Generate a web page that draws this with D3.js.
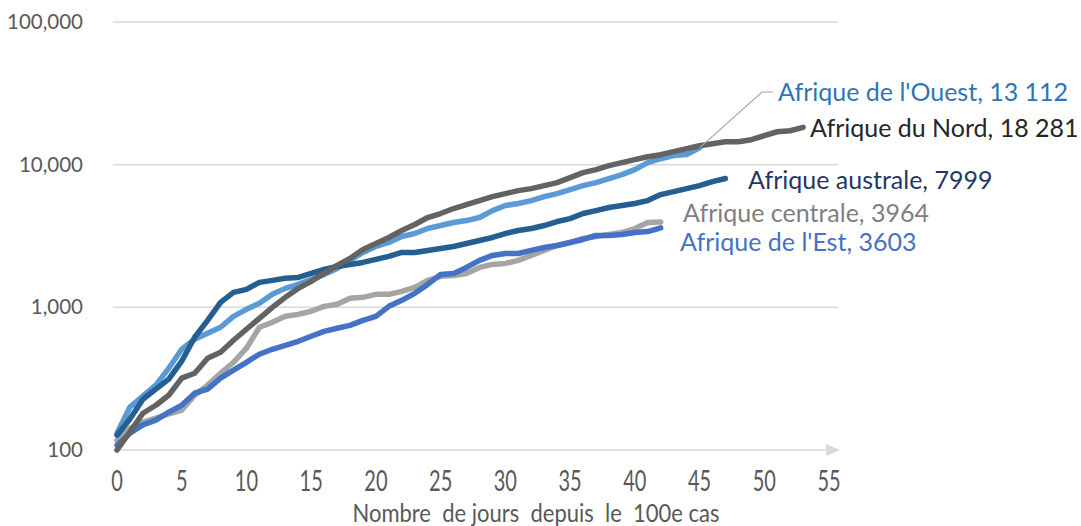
<!DOCTYPE html>
<html>
<head>
<meta charset="utf-8">
<script src="https://cdn.jsdelivr.net/npm/d3@7"></script>
<style>
  html, body { margin: 0; padding: 0; background: #ffffff; }
  svg text { font-family: Lato, "Open Sans", sans-serif; }
</style>
</head>
<body>
<div id="chart"></div>
<script>
////////////////////////////////////////////////////////////////////////////////////////////////////////////
//
// Data (cumulative cases, one value per day since the 100th case)
//
var nord = [100, 134, 181, 206, 242, 319, 345, 440, 485, 588, 702, 838, 1000, 1175, 1358, 1520, 1729, 1966,
  2201, 2545, 2803, 3088, 3455, 3805, 4260, 4545, 4925, 5250, 5600, 5975, 6270, 6580, 6793, 7130, 7480, 8109,
  8791, 9228, 9840, 10330, 10840, 11370, 11750, 12330, 12940, 13580, 14020, 14480, 14480, 14960, 15960, 17010,
  17290, 18281];
var ouest = [131, 200, 239, 285, 374, 508, 597, 658, 725, 865, 968, 1067, 1233, 1358, 1448, 1570, 1701, 1874,
  2132, 2424, 2671, 2849, 3139, 3290, 3568, 3745, 3930, 4057, 4260, 4767, 5170, 5340, 5600, 5975, 6270, 6685,
  7130, 7480, 7980, 8511, 9228, 10330, 11010, 11590, 11770, 13112];
var australe = [127, 165, 227, 267, 314, 419, 617, 811, 1084, 1273, 1336, 1496, 1545, 1600, 1621, 1729, 1844,
  1935, 1999, 2064, 2167, 2274, 2424, 2424, 2505, 2585, 2671, 2803, 2942, 3088, 3290, 3455, 3568, 3745, 3993,
  4190, 4545, 4767, 5005, 5170, 5340, 5600, 6170, 6474, 6793, 7130, 7606, 7999];
var centrale = [117, 142, 157, 167, 179, 190, 242, 285, 345, 412, 517, 725, 785, 865, 893, 938, 1016, 1050,
  1156, 1175, 1233, 1233, 1294, 1380, 1545, 1648, 1674, 1729, 1905, 1999, 2031, 2132, 2311, 2505, 2715, 2849,
  3040, 3139, 3238, 3345, 3568, 3930, 3964];
var est = [108, 131, 150, 162, 184, 206, 250, 267, 319, 363, 412, 469, 508, 542, 578, 627, 679, 713, 748, 811,
  865, 1016, 1119, 1253, 1448, 1701, 1729, 1905, 2132, 2311, 2386, 2386, 2505, 2628, 2715, 2849, 2989, 3188,
  3188, 3238, 3345, 3398, 3603];

var series_names = ["Afrique centrale", "Afrique de l'Ouest", "Afrique australe", "Afrique de l'Est", "Afrique du Nord"];
var series_values = [centrale, ouest, australe, est, nord];
var series_labels = ["Afrique centrale, 3964", "Afrique de l'Ouest, 13 112", "Afrique australe, 7999",
  "Afrique de l'Est, 3603", "Afrique du Nord, 18 281"];

var x_ticks = [0, 5, 10, 15, 20, 25, 30, 35, 40, 45, 50, 55];
var y_ticks = [100, 1000, 10000, 100000];
var x_title = "Nombre  de jours  depuis  le  100e cas";

(function () {
  "use strict";

  ////////////////////////////////////////////////////////////////////////////////////////////////////////////
  //
  // Settings
  //
  var w = 1081;
  var h = 526;
  var line_colors = ["#a5a5a5", "#5b9bd5", "#255e91", "#4472c4", "#636363"];
  var text_colors = ["#7f7f7f", "#2e75b6", "#1f3864", "#4472c4", "#262626"];
  // label anchor: [x, y baseline]
  var label_pos = [[683, 222], [778, 101], [748, 189], [680, 251], [810, 137]];

  var x = d3.scaleLinear().domain([0, 55]).range([117, 829]);
  var y = d3.scaleLog().domain([100, 100000]).range([450, 22]);

  var svg = d3.select("#chart")
    .append("svg")
    .attr("width", w)
    .attr("height", h);

  ////////////////////////////////////////////////////////////////////////////////////////////////////////////
  //
  // Grid and axes
  //
  svg.append("g")
    .selectAll("line")
    .data(y_ticks.slice(1))
    .enter()
    .append("line")
    .attr("x1", 113).attr("x2", 838)
    .attr("y1", function (d) { return y(d); })
    .attr("y2", function (d) { return y(d); })
    .attr("stroke", "#d9d9d9")
    .attr("stroke-width", 1.5);

  // x axis line with arrow head
  svg.append("line")
    .attr("x1", 113).attr("x2", 828)
    .attr("y1", y(100)).attr("y2", y(100))
    .attr("stroke", "#d9d9d9")
    .attr("stroke-width", 1.5);
  svg.append("path")
    .attr("d", "M826," + (y(100) - 6) + "L840," + y(100) + "L826," + (y(100) + 6) + "Z")
    .attr("fill", "#d9d9d9");

  svg.append("g")
    .selectAll("text")
    .data(y_ticks)
    .enter()
    .append("text")
    .attr("x", 83)
    .attr("y", function (d) { return y(d) + 7; })
    .attr("text-anchor", "end")
    .attr("font-size", 20.5)
    .attr("fill", "#595959")
    .text(function (d) { return d3.format(",")(d); });

  // the reference uses tall, narrow glyphs on the x axis: stretch vertically
  svg.append("g")
    .selectAll("text")
    .data(x_ticks)
    .enter()
    .append("text")
    .attr("transform", function (d) { return "translate(" + x(d) + ",491) scale(1,1.45)"; })
    .attr("text-anchor", "middle")
    .attr("font-size", 20)
    .attr("fill", "#595959")
    .text(function (d) { return d; });

  svg.append("text")
    .attr("transform", "translate(536,522) scale(1,1.1)")
    .attr("text-anchor", "middle")
    .attr("font-size", 22)
    .attr("fill", "#595959")
    .style("white-space", "pre")
    .text(x_title);

  ////////////////////////////////////////////////////////////////////////////////////////////////////////////
  //
  // Lines
  //
  var line = d3.line()
    .x(function (d, i) { return x(i); })
    .y(function (d) { return y(d); });

  svg.append("g")
    .selectAll("path")
    .data(series_values)
    .enter()
    .append("path")
    .attr("d", line)
    .attr("fill", "none")
    .attr("stroke", function (d, i) { return line_colors[i]; })
    .attr("stroke-width", 5.5)
    .attr("stroke-linejoin", "round")
    .attr("stroke-linecap", "round");

  ////////////////////////////////////////////////////////////////////////////////////////////////////////////
  //
  // Labels
  //
  // leader line for Afrique de l'Ouest
  var last_ouest = ouest.length - 1;
  svg.append("polyline")
    .attr("points", [[x(last_ouest), y(ouest[last_ouest])], [762, 92], [773, 92]].join(" "))
    .attr("fill", "none")
    .attr("stroke", "#a6a6a6")
    .attr("stroke-width", 1.2);

  svg.append("g")
    .selectAll("text")
    .data(series_labels)
    .enter()
    .append("text")
    .attr("x", function (d, i) { return label_pos[i][0]; })
    .attr("y", function (d, i) { return label_pos[i][1]; })
    .attr("font-size", 25)
    .attr("fill", function (d, i) { return text_colors[i]; })
    .text(function (d) { return d; });
})();
</script>
</body>
</html>
